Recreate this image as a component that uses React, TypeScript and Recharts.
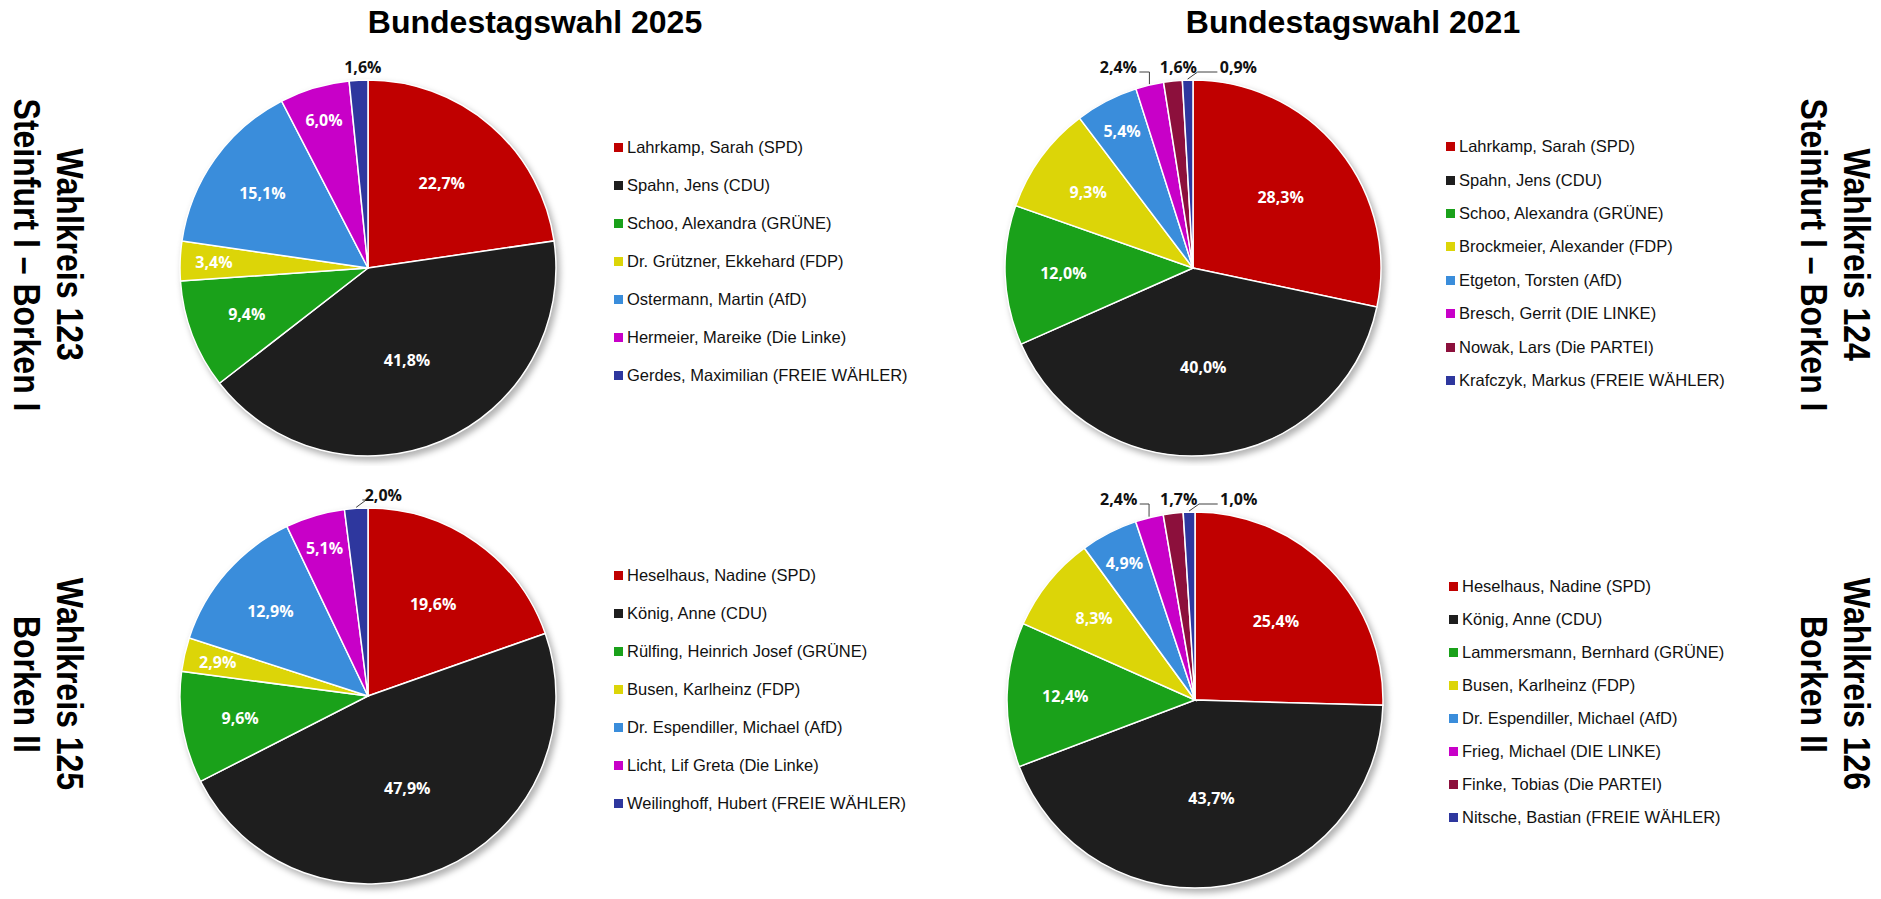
import React from 'react';
import { PieChart, Pie, Cell, Legend } from 'recharts';

// Wahlkreis 123 / 124 (Steinfurt I – Borken I)
const names2025a = [
  'Lahrkamp, Sarah (SPD)',
  'Spahn, Jens (CDU)',
  'Schoo, Alexandra (GRÜNE)',
  'Dr. Grützner, Ekkehard (FDP)',
  'Ostermann, Martin (AfD)',
  'Hermeier, Mareike (Die Linke)',
  'Gerdes, Maximilian (FREIE WÄHLER)',
];
const shares2025a = [22.7, 41.8, 9.4, 3.4, 15.1, 6.0, 1.6];

const names2021a = [
  'Lahrkamp, Sarah (SPD)',
  'Spahn, Jens (CDU)',
  'Schoo, Alexandra (GRÜNE)',
  'Brockmeier, Alexander (FDP)',
  'Etgeton, Torsten (AfD)',
  'Bresch, Gerrit (DIE LINKE)',
  'Nowak, Lars (Die PARTEI)',
  'Krafczyk, Markus (FREIE WÄHLER)',
];
const shares2021a = [28.3, 40.0, 12.0, 9.3, 5.4, 2.4, 1.6, 0.9];

// Wahlkreis 125 / 126 (Borken II)
const names2025b = [
  'Heselhaus, Nadine (SPD)',
  'König, Anne (CDU)',
  'Rülfing, Heinrich Josef (GRÜNE)',
  'Busen, Karlheinz (FDP)',
  'Dr. Espendiller, Michael (AfD)',
  'Licht, Lif Greta (Die Linke)',
  'Weilinghoff, Hubert (FREIE WÄHLER)',
];
const shares2025b = [19.6, 47.9, 9.6, 2.9, 12.9, 5.1, 2.0];

const names2021b = [
  'Heselhaus, Nadine (SPD)',
  'König, Anne (CDU)',
  'Lammersmann, Bernhard (GRÜNE)',
  'Busen, Karlheinz (FDP)',
  'Dr. Espendiller, Michael (AfD)',
  'Frieg, Michael (DIE LINKE)',
  'Finke, Tobias (Die PARTEI)',
  'Nitsche, Bastian (FREIE WÄHLER)',
];
const shares2021b = [25.4, 43.7, 12.4, 8.3, 4.9, 2.4, 1.7, 1.0];

const colors2025 = ['#c00000', '#1e1e1e', '#1aa11a', '#dcd508', '#3a8ddb', '#c800c8', '#2e379e'];
const colors2021 = ['#c00000', '#1e1e1e', '#1aa11a', '#dcd508', '#3a8ddb', '#c800c8', '#8c103c', '#2e379e'];

const RADIAN = Math.PI / 180;
const R = 188;
const LABEL_FONT = '"Open Sans", "Noto Sans", sans-serif';
const TEXT_FONT = '"Liberation Sans", Arial, sans-serif';

const fmt = (v: number) => v.toFixed(1).replace('.', ',') + '%';

interface PanelProps {
  names: string[];
  shares: number[];
  colors: string[];
  left: number;
  top: number;
  width: number;
  height: number;
  cx: number;
  cy: number;
  legendLeft: number;
  legendTop: number;
  rowGap: number;
  outsideShift?: number;
}

function Panel({ names, shares, colors, left, top, width, height, cx, cy, legendLeft, legendTop, rowGap, outsideShift = 0 }: PanelProps) {
  const data = names.map((name, i) => ({ name, value: shares[i], fill: colors[i] }));
  const total = shares.reduce((a, b) => a + b, 0);

  // small slices get their labels outside, spread apart so they don't overlap
  let acc = 0;
  const mids = shares.map((v) => {
    const m = ((acc + v / 2) / total) * 360;
    acc += v;
    return m;
  });
  const outside = shares.map((_, i) => i).filter((i) => shares[i] / total < 0.025);
  const defX = outside.map((i) => cx + (R + 14) * Math.sin(mids[i] * RADIAN));
  const mean = defX.reduce((a, b) => a + b, 0) / (defX.length || 1);
  const outX: Record<number, number> = {};
  outside.forEach((i, k) => {
    outX[i] = (outside.length > 1 ? mean + (k - (outside.length - 1) / 2) * 60 : defX[k]) + outsideShift;
  });

  const renderLabel = (p: any) => {
    const { cx: pcx, cy: pcy, midAngle, outerRadius, percent, value, index } = p;
    const cos = Math.cos(-midAngle * RADIAN);
    const sin = Math.sin(-midAngle * RADIAN);
    if (outX[index] !== undefined) {
      const x = outX[index];
      const y = pcy - outerRadius - 13;
      const ex = pcx + (outerRadius + 1) * cos;
      const ey = pcy + (outerRadius + 1) * sin;
      const dx = x - (pcx + (outerRadius + 14) * cos);
      let line = null;
      if (Math.abs(dx) > 12) {
        const sx = dx < 0 ? x + 21 : x - 21;
        const kx = dx < 0 ? ex : ex + 10;
        line = <path d={`M${sx},${y + 5}H${kx}L${ex},${ey}`} stroke="#404040" strokeWidth={1} fill="none" />;
      }
      return (
        <g>
          {line}
          <text x={x} y={y} fill="#111" textAnchor="middle" dominantBaseline="central" fontFamily={LABEL_FONT} fontWeight={700} fontSize={16}>
            {fmt(value)}
          </text>
        </g>
      );
    }
    const f = percent >= 0.35 ? 0.53 : percent >= 0.18 ? 0.6 : percent >= 0.08 ? 0.69 : 0.82;
    const rr = outerRadius * f;
    return (
      <text x={pcx + rr * cos} y={pcy + rr * sin} fill="#fff" textAnchor="middle" dominantBaseline="central" fontFamily={LABEL_FONT} fontWeight={700} fontSize={16}>
        {fmt(value)}
      </text>
    );
  };

  const renderLegend = (props: any) => {
    const items = (props.payload || [])
      .filter((it: any) => it.type !== 'none' && names.indexOf(it.value) >= 0)
      .slice()
      .sort((a: any, b: any) => names.indexOf(a.value) - names.indexOf(b.value));
    return (
      <div style={{ fontFamily: TEXT_FONT, fontSize: 16.5, color: '#111' }}>
        {items.map((it: any) => {
          const i = names.indexOf(it.value);
          return (
            <div key={it.value} style={{ height: rowGap, display: 'flex', alignItems: 'center', whiteSpace: 'nowrap' }}>
              <span style={{ display: 'inline-block', width: 9, height: 9, background: colors[i] || it.color, marginRight: 4 }} />
              {it.value}
            </div>
          );
        })}
      </div>
    );
  };

  return (
    <div style={{ position: 'absolute', left, top }}>
      <PieChart width={width} height={height} margin={{ top: 0, right: 0, bottom: 0, left: 0 }}>
        <Pie
          className="pie-shadow"
          data={shares.map((v) => ({ value: v }))}
          dataKey="value"
          cx={cx + 3}
          cy={cy + 4}
          outerRadius={R + 1}
          startAngle={90}
          endAngle={-270}
          fill="#000"
          fillOpacity={0.3}
          stroke="none"
          legendType="none"
          label={false}
          labelLine={false}
          isAnimationActive={false}
        />
        <Pie
          data={data}
          dataKey="value"
          nameKey="name"
          cx={cx}
          cy={cy}
          outerRadius={R}
          startAngle={90}
          endAngle={-270}
          stroke="#fff"
          strokeWidth={1.5}
          label={renderLabel}
          labelLine={false}
          isAnimationActive={false}
        >
          {data.map((d, i) => (
            <Cell key={i} fill={d.fill} />
          ))}
        </Pie>
        <Legend
          layout="vertical"
          align="right"
          verticalAlign="top"
          itemSorter={(item: any) => names.indexOf(item.value)}
          content={renderLegend}
          wrapperStyle={{ left: legendLeft, top: legendTop, width: 420 }}
        />
      </PieChart>
    </div>
  );
}

function Title({ x, text }: { x: number; text: string }) {
  return (
    <div
      style={{
        position: 'absolute',
        left: x,
        top: 6,
        transform: 'translateX(-50%)',
        fontFamily: TEXT_FONT,
        fontWeight: 700,
        fontSize: 32,
        lineHeight: '32px',
        whiteSpace: 'nowrap',
        color: '#000',
      }}
    >
      {text}
    </div>
  );
}

function SideLabel({ x, y, lines }: { x: number; y: number; lines: string[] }) {
  return (
    <div
      style={{
        position: 'absolute',
        left: x,
        top: y,
        transform: 'translate(-50%, -50%) scaleX(1.15)',
        writingMode: 'vertical-rl',
        fontFamily: TEXT_FONT,
        fontWeight: 700,
        fontSize: 32,
        lineHeight: '38px',
        textAlign: 'center',
        whiteSpace: 'nowrap',
        color: '#000',
      }}
    >
      {lines.map((l) => (
        <div key={l}>{l}</div>
      ))}
    </div>
  );
}

export default function App() {
  return (
    <div style={{ position: 'absolute', left: 0, top: 0, width: 1881, height: 899, background: '#fff', overflow: 'hidden' }}>
      <style>{`.pie-shadow path { filter: blur(3px); }`}</style>
      <Title x={535} text="Bundestagswahl 2025" />
      <Title x={1353} text="Bundestagswahl 2021" />
      <SideLabel x={48} y={255} lines={['Wahlkreis 123', 'Steinfurt I – Borken I']} />
      <SideLabel x={48} y={684} lines={['Wahlkreis 125', 'Borken II']} />
      <SideLabel x={1835} y={255} lines={['Wahlkreis 124', 'Steinfurt I – Borken I']} />
      <SideLabel x={1835} y={684} lines={['Wahlkreis 126', 'Borken II']} />

      <Panel names={names2025a} shares={shares2025a} colors={colors2025} left={0} top={30} width={940} height={436}
        cx={368} cy={238} legendLeft={614} legendTop={98} rowGap={38} outsideShift={5} />
      <Panel names={names2021a} shares={shares2021a} colors={colors2021} left={940} top={30} width={860} height={436}
        cx={253} cy={238} legendLeft={506} legendTop={100} rowGap={33.4} outsideShift={10} />
      <Panel names={names2025b} shares={shares2025b} colors={colors2025} left={0} top={460} width={940} height={439}
        cx={368} cy={236} legendLeft={614} legendTop={96} rowGap={38} outsideShift={28} />
      <Panel names={names2021b} shares={shares2021b} colors={colors2021} left={940} top={460} width={860} height={439}
        cx={255} cy={240} legendLeft={509} legendTop={110} rowGap={33} outsideShift={10} />
    </div>
  );
}
